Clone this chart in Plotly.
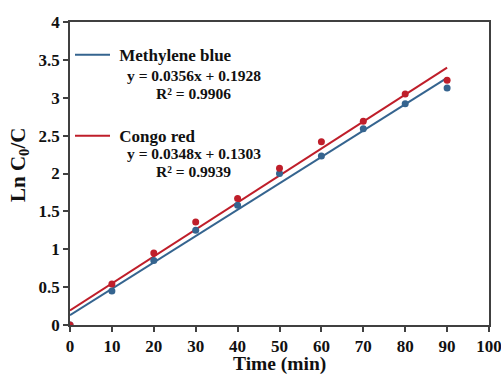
import plotly.graph_objects as go

time_min = [0, 10, 20, 30, 40, 50, 60, 70, 80, 90]
mb_values = [0, 0.45, 0.85, 1.25, 1.58, 2.00, 2.23, 2.59, 2.92, 3.13]
cr_values = [0, 0.54, 0.95, 1.36, 1.67, 2.07, 2.42, 2.69, 3.05, 3.23]

# drawn fit lines (as they appear in the picture)
fit_x = [0, 90]
blue_fit = (0.0348, 0.1303)
red_fit = (0.0356, 0.1928)

eq_mb = ["y = 0.0356x + 0.1928", "R² = 0.9906"]
eq_cr = ["y = 0.0348x + 0.1303", "R² = 0.9939"]

x_ticks = [0, 10, 20, 30, 40, 50, 60, 70, 80, 90, 100]
y_ticks = [0, 0.5, 1, 1.5, 2, 2.5, 3, 3.5, 4]
y_tick_text = ["0", "0.5", "1", "1.5", "2", "2.5", "3", "3.5", "4"]

BLUE = "#35648F"
RED = "#BF1E2A"
FONT = "'Liberation Serif', 'Times New Roman', serif"
INK = "#111111"

fig = go.Figure()
fig.add_trace(go.Scatter(x=fit_x, y=[blue_fit[0] * v + blue_fit[1] for v in fit_x],
                         mode="lines", line=dict(color=BLUE, width=2),
                         name="\u00a0<b>Methylene blue</b>", legendgroup="a"))
fig.add_trace(go.Scatter(x=fit_x, y=[red_fit[0] * v + red_fit[1] for v in fit_x],
                         mode="lines", line=dict(color=RED, width=2),
                         name="\u00a0<b>Congo red</b>", legendgroup="b"))
fig.add_trace(go.Scatter(x=time_min, y=mb_values, mode="markers",
                         marker=dict(color=BLUE, size=7), showlegend=False))
fig.add_trace(go.Scatter(x=time_min, y=cr_values, mode="markers",
                         marker=dict(color=RED, size=7), showlegend=False))

axis_common = dict(showline=True, linecolor="#404040", linewidth=1.5, mirror=True,
                   showgrid=False, zeroline=False, ticks="outside", ticklen=5,
                   tickcolor="#404040", tickwidth=1.5, automargin=False,
                   ticklabeloverflow="allow",
                   tickfont=dict(family=FONT, size=17, color=INK))

fig.update_layout(
    width=501, height=374,
    margin=dict(l=70, r=12, t=22, b=49),
    paper_bgcolor="white", plot_bgcolor="white",
    font=dict(family=FONT, color=INK),
    xaxis=dict(range=[0, 100], tickvals=x_ticks,
               ticktext=[f"<b>{t}</b>" for t in x_ticks],
               **axis_common),
    yaxis=dict(range=[0, 4], tickvals=y_ticks,
               ticktext=[f"<b>{t}</b>" for t in y_tick_text],
               **axis_common),
    legend=dict(x=0.0, y=0.95, xanchor="left", yanchor="top", itemwidth=35,
                bgcolor="rgba(0,0,0,0)", tracegroupgap=56,
                font=dict(family=FONT, size=17, color=INK)),
)

fig.add_annotation(xref="paper", yref="paper", x=0.5, y=-0.129,
                   text="<b>Time (min)</b>", showarrow=False,
                   xanchor="center", yanchor="middle",
                   font=dict(family=FONT, size=19.5, color=INK))
fig.add_annotation(xref="paper", yref="paper", x=-0.1217, y=0.528, textangle=-90,
                   text="<b>Ln C<sub>0</sub>/C</b>", showarrow=False,
                   xanchor="center", yanchor="middle",
                   font=dict(family=FONT, size=21, color=INK))

for txt, yy in [(eq_mb[0], 3.29), (eq_mb[1], 3.05), (eq_cr[0], 2.27), (eq_cr[1], 2.02)]:
    fig.add_annotation(x=29.5, y=yy, xref="x", yref="y", text=f"<b>{txt}</b>",
                       showarrow=False, font=dict(family=FONT, size=15.5, color=INK))

fig.write_html("out.html")
